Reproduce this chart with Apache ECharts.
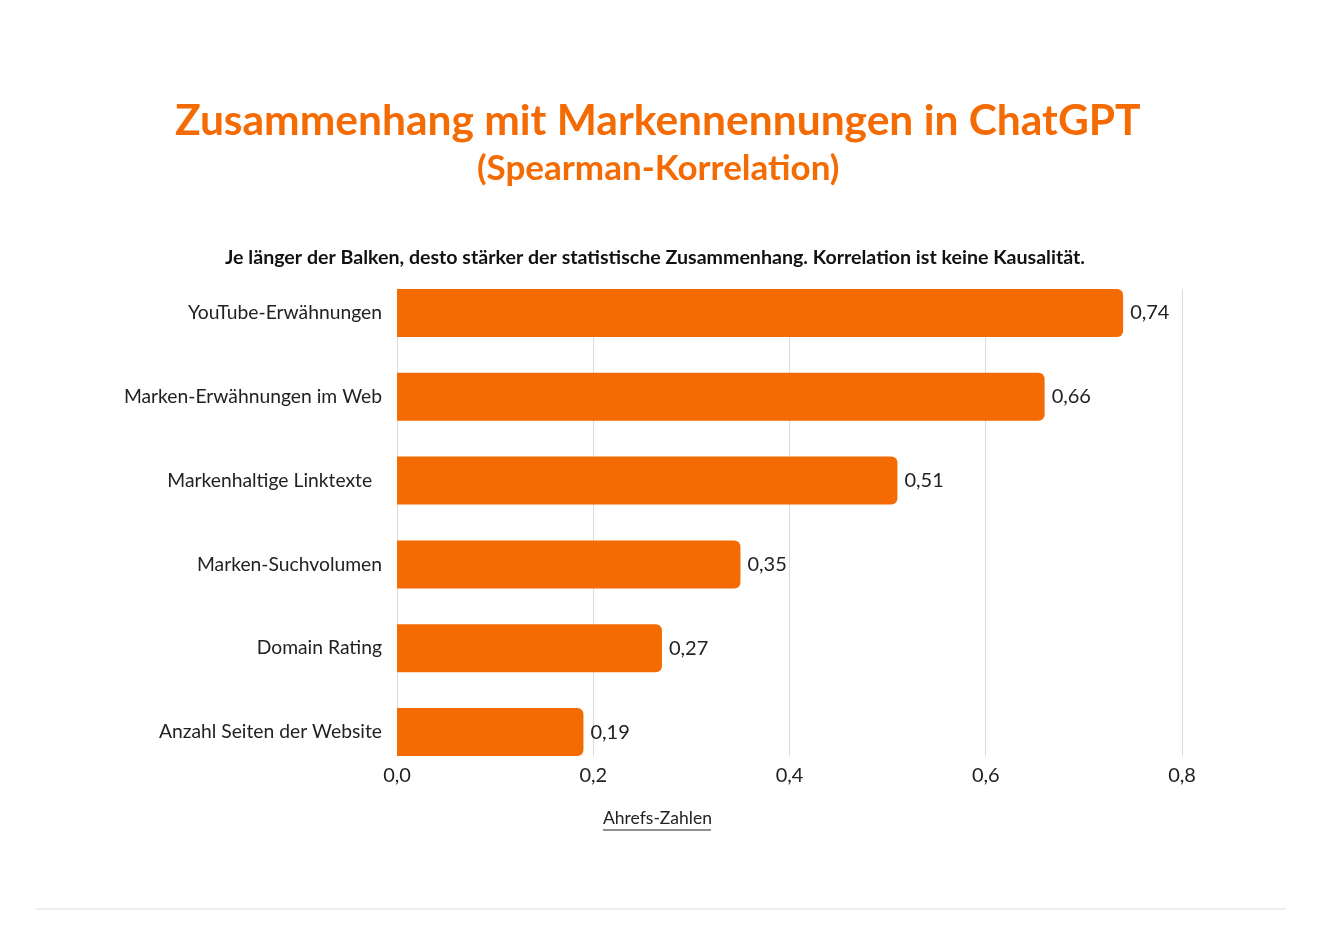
<!DOCTYPE html>
<html>
<head>
<meta charset="utf-8">
<title>Zusammenhang mit Markennennungen in ChatGPT</title>
<script src="https://cdn.jsdelivr.net/npm/echarts@6/dist/echarts.min.js"></script>
<style>
  html, body { margin: 0; padding: 0; background: #fff; }
  #chart { width: 1322px; height: 926px; }
</style>
</head>
<body>
<div id="chart"></div>
<script>
const categories = [
  'YouTube-Erwähnungen',
  'Marken-Erwähnungen im Web',
  'Markenhaltige Linktexte  ',
  'Marken-Suchvolumen',
  'Domain Rating',
  'Anzahl Seiten der Website'
];
const correlations = [0.74, 0.66, 0.51, 0.35, 0.27, 0.19];
const xTicks = [0, 0.2, 0.4, 0.6, 0.8];

const FONT = 'Lato, "Open Sans", sans-serif';
const ORANGE = '#f46a03';
const TEXT = '#222';

const comma = (v, d) => v.toFixed(d).replace('.', ',');

const chart = echarts.init(document.getElementById('chart'));

const option = {
  backgroundColor: '#fff',
  animation: false,
  textStyle: { fontFamily: FONT },
  title: [
    {
      text: 'Zusammenhang mit Markennennungen in ChatGPT',
      left: 170,
      top: 95,
      textStyle: { fontFamily: FONT, fontSize: 42.5, fontWeight: 'bold', color: ORANGE }
    },
    {
      text: '(Spearman-Korrelation)',
      left: 472,
      top: 146,
      textStyle: { fontFamily: FONT, fontSize: 35, fontWeight: 'bold', color: ORANGE }
    },
    {
      text: 'Je länger der Balken, desto stärker der statistische Zusammenhang. Korrelation ist keine Kausalität.',
      left: 220,
      top: 243,
      textStyle: { fontFamily: FONT, fontSize: 19.6, fontWeight: 'bold', color: '#111' }
    }
  ],
  grid: [
    // bars
    { left: 397, right: 140, top: 271, bottom: 152, containLabel: false },
    // grid lines and tick labels only
    { left: 397, right: 140, top: 289, bottom: 170, containLabel: false }
  ],
  xAxis: [
    {
      type: 'value', gridIndex: 0, min: 0, max: 0.8, interval: 0.2,
      show: false
    },
    {
      type: 'value', gridIndex: 1, min: 0, max: 0.8, interval: 0.2,
      axisLine: { show: false },
      axisTick: { show: false },
      splitLine: { show: true, lineStyle: { color: '#dcdcdc', width: 1 } },
      axisLabel: {
        margin: 10,
        fontSize: 20,
        color: TEXT,
        fontFamily: FONT,
        formatter: v => comma(v, 1)
      }
    }
  ],
  yAxis: [
    {
      type: 'category', gridIndex: 0, inverse: true,
      data: categories,
      axisLine: { show: false },
      axisTick: { show: false },
      axisLabel: { margin: 15, fontSize: 19.3, color: TEXT, fontFamily: FONT }
    },
    {
      type: 'category', gridIndex: 1, data: categories, show: false
    }
  ],
  series: [
    {
      type: 'bar',
      xAxisIndex: 0,
      yAxisIndex: 0,
      data: correlations,
      barWidth: 48,
      itemStyle: { color: ORANGE, borderRadius: [0, 6, 6, 0] },
      label: {
        show: true,
        position: 'right',
        distance: 7,
        fontSize: 20,
        color: TEXT,
        fontFamily: FONT,
        formatter: p => comma(p.value, 2)
      }
    }
  ],
  graphic: [
    {
      type: 'text',
      left: 603,
      top: 809,
      style: { text: 'Ahrefs-Zahlen', font: '17.5px ' + FONT, fill: TEXT }
    },
    {
      type: 'line',
      shape: { x1: 603, y1: 830, x2: 711, y2: 830 },
      style: { stroke: TEXT, lineWidth: 1.2 }
    },
    {
      type: 'line',
      shape: { x1: 36, y1: 909, x2: 1286, y2: 909 },
      style: { stroke: '#e8e8ec', lineWidth: 1.5 }
    }
  ]
};

chart.setOption(option);
</script>
</body>
</html>
